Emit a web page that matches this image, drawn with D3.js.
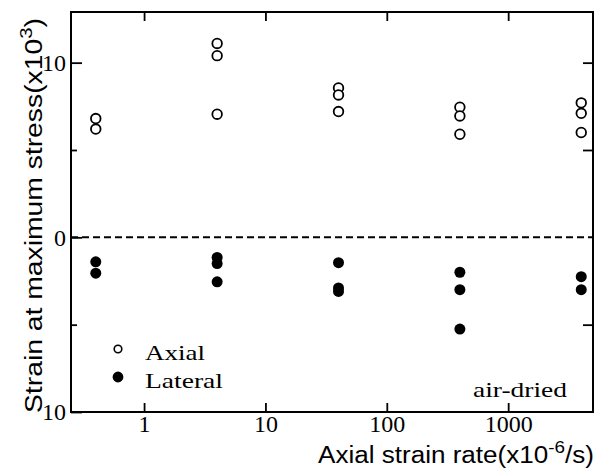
<!DOCTYPE html>
<html>
<head>
<meta charset="utf-8">
<script src="https://cdn.jsdelivr.net/npm/d3@7"></script>
<style>
    body { margin: 0; background: #fff; }
    .chart-strain__tick text { font-family: "Liberation Serif", serif; font-size: 24px; fill: #000; }
    .chart-strain__tick line { stroke: #000; stroke-width: 1.8; }
    .chart-strain__title { font-family: "Liberation Sans", Arial, sans-serif; font-size: 23.5px; fill: #000; }
    .chart-strain__label { font-family: "Liberation Serif", serif; font-size: 21px; fill: #000; }
</style>
</head>
<body>
<div id="chart" style="width:597px;height:471px;"></div>
<script>
// strain rate (x10^-6 /s) of each test group
const rates = [0.4, 4, 40, 400, 4000];

// strain at maximum stress (x10^-3), one list per rate
const axialStrain = [
    [6.8, 6.2],
    [11.1, 10.4, 7.05],
    [8.55, 8.15, 7.2],
    [7.45, 6.95, 5.9],
    [7.7, 7.1, 6.0],
];
const lateralStrain = [
    [-1.4, -2.05],
    [-1.15, -1.5, -2.55],
    [-1.45, -2.9, -3.1],
    [-2.0, -3.0, -5.25],
    [-2.25, -3.0],
];

const xTicks = [1, 10, 100, 1000];
const yTicks = [10, 0, -10];
const yMinorTicks = [5, -5];
const seriesNames = ["Axial", "Lateral"];

class StrainChart {

    constructor(div){
        this.settings = {
            mainClass: "chart-strain",
            container: div,
            width: 597,
            height: 471,
            frame: { left: 71, right: 593, top: 12, bottom: 412 },
            xDomain: [0.25, 5000],
            yDomain: [-10, 12.9],
        };
        this.elements = {};
    }

    render(){
        this.createSvg();
        this.calcScales();
        this.drawAxes();
        this.drawFrame();
        this.drawZeroLine();
        this.drawPoints();
        this.drawLegend();
        this.drawTitles();
    }

    createSvg(){
        const { container, width, height, mainClass } = this.settings;
        this.elements.svg = d3.select(container).append("svg")
            .classed(mainClass, true)
            .attr("width", width).attr("height", height);
    }

    calcScales(){
        const { frame, xDomain, yDomain } = this.settings;
        this.elements.xScale = d3.scaleLog().domain(xDomain).range([frame.left, frame.right]);
        this.elements.yScale = d3.scaleLinear().domain(yDomain).range([frame.bottom, frame.top]);
    }

    addAxis(axis, translate){
        const { svg } = this.elements;
        const g = svg.append("g")
            .attr("class", `${this.settings.mainClass}__tick`)
            .attr("transform", translate)
            .call(axis);
        g.select(".domain").remove();
        return g;
    }

    drawAxes(){
        const { xScale, yScale } = this.elements;
        const { frame } = this.settings;

        // ticks point into the plot
        this.addAxis(d3.axisBottom(xScale).tickValues(xTicks).tickSize(-9).tickPadding(3)
            .tickFormat(d3.format("d")), `translate(0,${frame.bottom})`);
        this.addAxis(d3.axisTop(xScale).tickValues(xTicks).tickSize(-9).tickFormat(""),
            `translate(0,${frame.top})`);

        this.addAxis(d3.axisLeft(yScale).tickValues(yTicks).tickSize(-11).tickPadding(5)
            .tickFormat((d) => Math.abs(d)), `translate(${frame.left},0)`);
        this.addAxis(d3.axisLeft(yScale).tickValues(yMinorTicks).tickSize(-6).tickFormat(""),
            `translate(${frame.left},0)`);
        this.addAxis(d3.axisRight(yScale).tickValues([10, ...yMinorTicks]).tickSize(-10).tickFormat(""),
            `translate(${frame.right},0)`);
    }

    drawFrame(){
        const { svg } = this.elements;
        const { frame } = this.settings;
        svg.append("rect")
            .attr("x", frame.left).attr("y", frame.top)
            .attr("width", frame.right - frame.left)
            .attr("height", frame.bottom - frame.top)
            .attr("fill", "none").attr("stroke", "#000").attr("stroke-width", 2);
    }

    drawZeroLine(){
        const { svg, yScale } = this.elements;
        const { frame } = this.settings;
        svg.append("line")
            .attr("x1", frame.left).attr("x2", frame.right)
            .attr("y1", yScale(0)).attr("y2", yScale(0))
            .attr("stroke", "#000").attr("stroke-width", 2)
            .attr("stroke-dasharray", "7,4");
    }

    drawPoints(){
        const { svg, xScale, yScale } = this.elements;
        const flatten = (arr) => arr.reduce((total, values, i) =>
            [...total, ...values.map((v) => ({ rate: rates[i], value: v }))], []);

        svg.append("g").selectAll("circle").data(flatten(lateralStrain))
            .join("circle")
            .attr("cx", (d) => xScale(d.rate))
            .attr("cy", (d) => yScale(d.value))
            .attr("r", 5.5)
            .attr("fill", "#000");

        svg.append("g").selectAll("circle").data(flatten(axialStrain))
            .join("circle")
            .attr("cx", (d) => xScale(d.rate))
            .attr("cy", (d) => yScale(d.value))
            .attr("r", 4.8)
            .attr("fill", "#fff")
            .attr("stroke", "#000").attr("stroke-width", 1.8);
    }

    drawLegend(){
        const { svg } = this.elements;
        const { mainClass } = this.settings;
        const legend = svg.append("g").attr("transform", "translate(118,349)");
        const rows = legend.selectAll("g").data(seriesNames).join("g")
            .attr("transform", (d, i) => `translate(0,${i * 28})`);

        rows.append("circle")
            .attr("r", (d, i) => i ? 4.6 : 3.8)
            .attr("fill", (d, i) => i ? "#000" : "#fff")
            .attr("stroke", "#000").attr("stroke-width", 1.6);

        rows.append("text")
            .attr("class", `${mainClass}__label`)
            .attr("x", 27).attr("y", 11)
            .attr("textLength", (d) => d === "Axial" ? 60 : 78)
            .attr("lengthAdjust", "spacingAndGlyphs")
            .text((d) => d);

        svg.append("text")
            .attr("class", `${mainClass}__label`)
            .attr("x", 473).attr("y", 397)
            .attr("textLength", 94)
            .attr("lengthAdjust", "spacingAndGlyphs")
            .text("air-dried");
    }

    drawTitles(){
        const { svg } = this.elements;
        const { mainClass } = this.settings;

        const xTitle = svg.append("text")
            .attr("class", `${mainClass}__title`)
            .attr("x", 318).attr("y", 463)
            .attr("textLength", 276)
            .attr("lengthAdjust", "spacingAndGlyphs");
        xTitle.append("tspan").text("Axial strain rate(x10");
        xTitle.append("tspan").attr("dy", -10).attr("font-size", 17).text("-6");
        xTitle.append("tspan").attr("dy", 10).text("/s)");

        const yTitle = svg.append("text")
            .attr("class", `${mainClass}__title`)
            .attr("transform", "translate(42,413) rotate(-90)")
            .attr("textLength", 395)
            .attr("lengthAdjust", "spacingAndGlyphs");
        yTitle.append("tspan").text("Strain at maximum stress(x10");
        yTitle.append("tspan").attr("dy", -10).attr("font-size", 17).text("3");
        yTitle.append("tspan").attr("dy", 10).text(")");
    }
}

new StrainChart(document.getElementById("chart")).render();
</script>
</body>
</html>
